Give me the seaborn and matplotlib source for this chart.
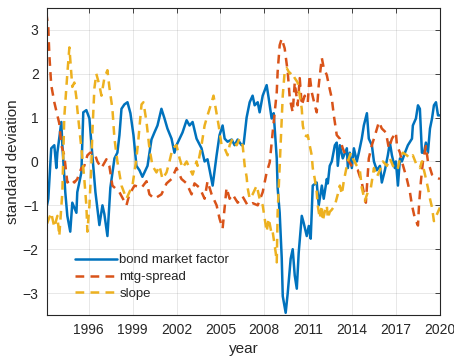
import matplotlib
import matplotlib.pyplot as plt
import pandas as pd
import seaborn as sns

matplotlib.use("Agg")

# bond market factor (solid blue)
bond_years = [
    1993.15, 1993.24, 1993.44, 1993.65, 1993.79, 1993.86, 1994.13, 1994.20, 1994.40, 1994.54,
    1994.74, 1994.88, 1995.16, 1995.22, 1995.50, 1995.63, 1995.84, 1996.05, 1996.25, 1996.46,
    1996.73, 1996.94, 1997.07, 1997.28, 1997.48, 1997.76, 1997.96, 1998.10, 1998.24, 1998.44,
    1998.65, 1998.85, 1999.06, 1999.26, 1999.47, 1999.67, 1999.88, 2000.02, 2000.29, 2000.49,
    2000.70, 2000.97, 2001.18, 2001.38, 2001.66, 2001.86, 2002.00, 2002.21, 2002.41, 2002.69,
    2002.89, 2003.10, 2003.37, 2003.71, 2003.92, 2004.12, 2004.47, 2004.74, 2004.94, 2005.15,
    2005.29, 2005.49, 2005.77, 2005.97, 2006.18, 2006.45, 2006.59, 2006.79, 2007.00, 2007.20,
    2007.34, 2007.55, 2007.68, 2007.89, 2008.16, 2008.30, 2008.50, 2008.64, 2008.85, 2008.91,
    2009.05, 2009.19, 2009.26, 2009.46, 2009.60, 2009.80, 2009.94, 2010.08, 2010.22, 2010.35,
    2010.56, 2010.69, 2010.90, 2011.04, 2011.17, 2011.31, 2011.58, 2011.72, 2011.93, 2012.06,
    2012.27, 2012.34, 2012.47, 2012.61, 2012.82, 2012.95, 2013.02, 2013.16, 2013.36, 2013.64,
    2013.71, 2013.84, 2013.98, 2014.12, 2014.32, 2014.46, 2014.66, 2014.80, 2015.01, 2015.14,
    2015.35, 2015.49, 2015.69, 2015.90, 2016.03, 2016.24, 2016.44, 2016.58, 2016.72, 2016.92,
    2016.99, 2017.13, 2017.27, 2017.40, 2017.61, 2017.81, 2018.09, 2018.15, 2018.36, 2018.50,
    2018.63, 2018.77, 2018.91, 2019.04, 2019.18, 2019.32, 2019.46, 2019.59, 2019.73, 2019.87,
    2020.00,
]
bond_values = [
    -1.0, -0.85, 0.3, 0.37, -0.15, 0.2, 0.9, 0.37, -0.7, -1.24,
    -1.6, -0.94, -1.17, -0.7, -0.25, 1.12, 1.17, 0.98, 0.14, -0.7,
    -1.45, -1.0, -1.2, -1.7, -0.6, 0.07, 0.2, 0.6, 1.2, 1.3,
    1.35, 1.1, 0.6, -0.1, -0.2, -0.35, -0.2, -0.1, 0.5, 0.66,
    0.82, 1.2, 0.98, 0.75, 0.52, 0.2, 0.37, 0.52, 0.66, 0.94,
    0.82, 0.9, 0.52, 0.3, 0.0, 0.05, -0.55, 0.14, 0.6, 0.82,
    0.52, 0.45, 0.5, 0.37, 0.5, 0.37, 0.4, 1.0, 1.35, 1.5,
    1.28, 1.35, 1.12, 1.5, 1.74, 1.44, 0.98, 1.1, 0.07, -0.6,
    -1.17, -2.2, -3.07, -3.45, -3.0, -2.22, -2.0, -2.6, -2.9, -2.08,
    -1.24, -1.4, -1.7, -1.47, -1.76, -0.55, -0.48, -1.0, -0.55, -0.85,
    -0.4, -0.5, -0.1, 0.0, 0.37, 0.43, -0.1, 0.37, 0.07, 0.3,
    -0.15, 0.2, -0.15, 0.3, 0.0, 0.2, 0.52, 0.82, 1.1, 0.52,
    0.37, 0.0, -0.2, -0.1, -0.48, -0.2, 0.14, 0.43, 0.14, -0.15,
    0.0, -0.55, 0.07, 0.0, 0.2, 0.37, 0.52, 0.82, 0.98, 1.28,
    1.2, 0.2, 0.2, 0.43, 0.2, 0.75, 0.98, 1.28, 1.35, 1.05,
    1.05,
]

# mtg-spread (dashed orange)
mtg_years = [
    1993.10, 1993.24, 1993.31, 1993.44, 1993.65, 1993.86, 1993.99, 1994.13, 1994.33, 1994.54,
    1994.81, 1995.02, 1995.22, 1995.50, 1995.70, 1995.91, 1996.10, 1996.39, 1996.59, 1996.87,
    1997.21, 1997.41, 1997.62, 1998.10, 1998.58, 1998.78, 1999.13, 1999.61, 1999.95, 2000.15,
    2000.49, 2000.97, 2001.32, 2001.66, 2002.00, 2002.34, 2002.69, 2003.03, 2003.23, 2003.58,
    2003.92, 2004.12, 2004.40, 2004.74, 2004.94, 2005.15, 2005.42, 2005.63, 2005.83, 2006.18,
    2006.52, 2006.86, 2007.20, 2007.55, 2007.89, 2008.16, 2008.37, 2008.57, 2008.85, 2008.91,
    2009.05, 2009.19, 2009.39, 2009.60, 2009.74, 2009.94, 2010.08, 2010.28, 2010.42, 2010.56,
    2010.76, 2010.97, 2011.10, 2011.24, 2011.45, 2011.58, 2011.72, 2011.93, 2012.06, 2012.27,
    2012.41, 2012.61, 2012.75, 2012.95, 2013.16, 2013.36, 2013.64, 2013.98, 2014.18, 2014.39,
    2014.66, 2014.94, 2015.14, 2015.35, 2015.62, 2015.83, 2016.03, 2016.31, 2016.51, 2016.72,
    2016.99, 2017.06, 2017.27, 2017.40, 2017.74, 2017.95, 2018.09, 2018.29, 2018.50, 2018.57,
    2018.70, 2018.84, 2019.04, 2019.18, 2019.46, 2019.66, 2020.00,
]
mtg_values = [
    3.4, 3.04, 2.43, 1.74, 1.35, 1.05, 0.87, 0.37, 0.14, -0.48,
    -0.4, -0.48, -0.4, -0.15, -0.1, 0.14, 0.2, 0.2, 0.0, -0.15,
    0.05, -0.1, -0.55, -0.7, -1.0, -0.75, -0.55, -0.6, -0.45, -0.75,
    -0.85, -0.75, -0.5, -0.4, -0.15, -0.4, -0.5, -0.75, -0.5, -0.6,
    -0.85, -0.45, -0.75, -1.0, -1.3, -1.53, -0.6, -0.85, -0.75, -0.94,
    -0.8, -1.0, -0.95, -1.0, -0.7, -0.25, -0.02, 0.66, 1.58, 2.04,
    2.65, 2.8, 2.58, 2.04, 1.44, 1.12, 1.8, 1.28, 1.9, 1.28,
    1.5, 1.35, 1.97, 1.58, 1.28, 1.12, 1.74, 2.36, 2.13, 1.97,
    1.74, 1.44, 1.05, 0.6, 0.52, 0.3, 0.07, -0.1, -0.15, -0.2,
    -0.48, -0.94, 0.07, 0.37, 0.66, 0.9, 0.75, 0.66, 0.3, 0.52,
    0.66, 0.37, 0.2, 0.0, -0.4, -0.7, -1.0, -1.3, -1.46, -1.0,
    -0.45, 0.0, 0.35, 0.0, -0.3, -0.35, -0.4,
]

# slope (dashed yellow)
slope_years = [
    1993.10, 1993.17, 1993.44, 1993.65, 1993.86, 1993.99, 1994.20, 1994.33, 1994.54, 1994.68,
    1994.81, 1994.88, 1995.02, 1995.16, 1995.22, 1995.43, 1995.57, 1995.70, 1995.84, 1995.91,
    1996.05, 1996.18, 1996.25, 1996.39, 1996.52, 1996.73, 1996.87, 1997.07, 1997.28, 1997.41,
    1997.62, 1997.76, 1997.96, 1998.24, 1998.58, 1998.78, 1998.99, 1999.26, 1999.40, 1999.61,
    1999.74, 1999.95, 2000.15, 2000.36, 2000.63, 2000.84, 2001.04, 2001.32, 2001.52, 2001.73,
    2002.00, 2002.21, 2002.41, 2002.69, 2002.89, 2003.10, 2003.37, 2003.44, 2003.71, 2003.92,
    2004.12, 2004.40, 2004.53, 2004.74, 2004.88, 2005.08, 2005.29, 2005.49, 2005.63, 2005.83,
    2006.11, 2006.31, 2006.52, 2006.66, 2006.79, 2006.86, 2007.00, 2007.20, 2007.48, 2007.68,
    2007.89, 2008.16, 2008.30, 2008.50, 2008.57, 2008.78, 2008.85, 2008.91, 2009.05, 2009.19,
    2009.26, 2009.39, 2009.53, 2009.74, 2009.87, 2010.08, 2010.28, 2010.42, 2010.56, 2010.63,
    2010.76, 2010.90, 2010.97, 2011.10, 2011.24, 2011.31, 2011.45, 2011.58, 2011.65, 2011.79,
    2011.93, 2011.99, 2012.13, 2012.27, 2012.34, 2012.47, 2012.61, 2012.82, 2013.02, 2013.16,
    2013.30, 2013.43, 2013.64, 2013.71, 2013.91, 2014.05, 2014.32, 2014.53, 2014.66, 2014.87,
    2015.07, 2015.28, 2015.49, 2015.69, 2015.90, 2016.10, 2016.38, 2016.58, 2016.79, 2017.06,
    2017.13, 2017.27, 2017.47, 2017.74, 2017.95, 2018.15, 2018.43, 2018.63, 2018.77, 2018.98,
    2019.18, 2019.32, 2019.46, 2019.59, 2019.80, 2020.00,
]
slope_values = [
    -1.76, -1.4, -1.17, -1.5, -1.24, -1.7, -0.7, 1.0, 2.0, 2.6,
    2.0, 1.7, 1.8, 1.45, 1.2, 0.52, 0.07, -0.4, -1.0, -1.6,
    -1.0, -0.1, 0.66, 1.67, 2.0, 1.74, 1.5, 1.9, 2.08, 1.7,
    1.2, 0.52, 0.0, -0.55, -0.85, -0.7, -0.55, 0.07, 0.52, 1.3,
    1.35, 0.9, 0.3, -0.1, -0.25, -0.1, -0.4, -0.25, 0.0, 0.3,
    0.37, 0.07, -0.15, 0.0, -0.15, -0.3, 0.0, -0.1, 0.37, 0.82,
    1.05, 1.35, 1.5, 1.1, 0.82, 0.37, 0.3, 0.14, 0.37, 0.52,
    0.37, 0.52, 0.37, -0.1, -0.35, -0.6, -0.85, -0.75, -0.55, -0.85,
    -1.0, -1.6, -1.3, -1.65, -1.6, -2.08, -2.3, -1.17, -0.1, 0.98,
    1.5, 2.04, 2.13, 2.0, 2.04, 1.9, 1.8, 1.5, 1.2, 0.82,
    0.6, 0.57, 0.6, 0.37, 0.14, -0.15, -0.4, -0.7, -1.0, -1.3,
    -1.0, -1.36, -1.15, -1.0, -1.3, -1.15, -1.1, -1.0, -0.75, -0.55,
    -0.75, -0.45, -0.1, 0.0, 0.2, 0.07, -0.1, -0.2, -0.6, -0.9,
    -0.7, -0.6, -0.15, -0.35, -0.2, 0.0, -0.1, 0.07, -0.1, -0.2,
    -0.15, 0.07, 0.2, 0.14, 0.07, 0.14, -0.1, -0.15, 0.0, -0.3,
    -0.6, -0.85, -1.05, -1.36, -1.2, -1.05,
]

x_ticks = [1996, 1999, 2002, 2005, 2008, 2011, 2014, 2017, 2020]
y_ticks = [-3, -2, -1, 0, 1, 2, 3]

sns.set_style("white")
plt.rcParams["font.family"] = ["Liberation Sans", "DejaVu Sans"]

fig = plt.figure(figsize=(4.54, 3.60), dpi=100)
ax = fig.add_axes([0.1035, 0.125, 0.8655, 0.853])

bond = pd.DataFrame({"year": bond_years, "value": bond_values})
mtg = pd.DataFrame({"year": mtg_years, "value": mtg_values})
slope = pd.DataFrame({"year": slope_years, "value": slope_values})

sns.lineplot(data=bond, x="year", y="value", ax=ax, color="#0072BD", lw=1.8,
             label="bond market factor")
sns.lineplot(data=mtg, x="year", y="value", ax=ax, color="#D95319", lw=1.8,
             dashes=False, linestyle=(0, (3.5, 2.5)), label="mtg-spread")
sns.lineplot(data=slope, x="year", y="value", ax=ax, color="#EDB120", lw=1.8,
             dashes=False, linestyle=(0, (3.5, 2.5)), label="slope")

ax.set_xlim(1993.15, 2020)
ax.set_ylim(-3.5, 3.5)
ax.set_xticks(x_ticks)
ax.set_yticks(y_ticks)
ax.grid(True, color="#262626", alpha=0.12, lw=0.6)
ax.set_axisbelow(True)
ax.tick_params(direction="in", length=3.5, width=0.6, top=True, right=True,
               labelsize=10, colors="#262626", pad=6)
for s in ax.spines.values():
    s.set_color("#262626")
    s.set_linewidth(0.8)

ax.set_xlabel("year", fontsize=11, color="#262626", labelpad=3)
ax.set_ylabel("standard deviation", fontsize=11, color="#262626", labelpad=2)

ax.legend(loc="lower left", bbox_to_anchor=(0.04, 0.01), frameon=False, fontsize=9.5,
          handlelength=3.2, handletextpad=0.2, labelspacing=0.35)

fig.savefig("out.png", dpi=100)
